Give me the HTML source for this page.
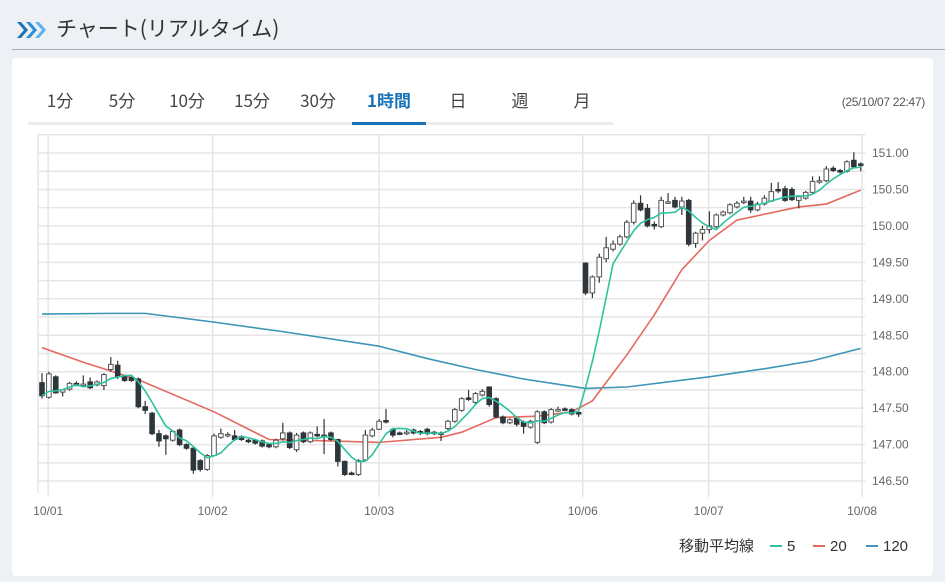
<!DOCTYPE html>
<html><head><meta charset="utf-8">
<style>
body{margin:0;width:945px;height:582px;background:#edf0f4;font-family:"Liberation Sans","Noto Sans CJK JP",sans-serif;overflow:hidden;position:relative}
.title{position:absolute;left:56px;top:13px;font-size:21px;color:#333;font-family:"Noto Sans CJK JP",sans-serif}
.hr{position:absolute;left:12px;top:49px;width:933px;height:1px;background:#a8adb2}
.card{position:absolute;left:12px;top:58px;width:921px;height:518px;background:#fff;border-radius:4px}
.tab{position:absolute;top:87px;font-size:17px;color:#444;transform:translateX(-50%);font-family:"Noto Sans CJK JP",sans-serif}
.tab.on{color:#1a73b8;font-weight:bold}
.ts{position:absolute;right:20px;top:95px;font-size:12px;color:#555;letter-spacing:-0.3px}
</style></head><body>
<svg style="position:absolute;left:15px;top:20px" width="32" height="20" viewBox="0 0 32 20">
<path d="M2 2l7 8-7 8h4l7-8-7-8z" fill="#1a73b8"/><path d="M11 2l7 8-7 8h4l7-8-7-8z" fill="#2b8fd6"/><path d="M20 2l7 8-7 8h4l7-8-7-8z" fill="#5ab4ee"/></svg>
<div class="title">チャート(リアルタイム)</div>
<div class="hr"></div>
<div class="card"></div>
<div class="tab" style="left:60px">1分</div>
<div class="tab" style="left:122px">5分</div>
<div class="tab" style="left:187px">10分</div>
<div class="tab" style="left:252px">15分</div>
<div class="tab" style="left:318px">30分</div>
<div class="tab on" style="left:389px">1時間</div>
<div class="tab" style="left:458px">日</div>
<div class="tab" style="left:520px">週</div>
<div class="tab" style="left:582px">月</div>
<div style="position:absolute;left:28px;top:122px;width:585px;height:3px;background:#ececec"></div>
<div style="position:absolute;left:352px;top:122px;width:74px;height:3px;background:#1a73b8"></div>
<div class="ts">(25/10/07 22:47)</div>
<svg id="chart" style="position:absolute;left:0;top:0" width="945" height="582"></svg>
<script>
const opens=[147.85,147.65,147.93,147.72,147.76,147.84,147.82,147.86,147.82,147.81,148.03,148.09,147.93,147.92,147.9,147.52,147.43,147.15,147.12,147.06,147.2,147.0,146.95,146.78,146.66,146.85,147.1,147.13,147.12,147.11,147.06,147.06,147.05,147.0,146.97,147.08,147.16,146.93,147.16,147.04,147.14,147.13,147.16,147.07,146.77,146.61,146.59,146.79,147.12,147.21,147.33,147.21,147.16,147.15,147.2,147.18,147.21,147.17,147.16,147.22,147.32,147.47,147.64,147.58,147.68,147.79,147.63,147.38,147.3,147.36,147.31,147.24,147.03,147.45,147.31,147.47,147.49,147.48,147.44,149.49,149.08,149.3,149.55,149.68,149.75,149.85,150.05,150.31,150.24,150.02,149.99,150.33,150.35,150.26,150.35,149.76,149.9,149.95,149.99,150.15,150.18,150.26,150.32,150.34,150.22,150.3,150.34,150.5,150.51,150.5,150.35,150.38,150.46,150.6,150.62,150.79,150.76,150.75,150.9,150.85];
const closes=[147.67,147.97,147.71,147.75,147.84,147.83,147.83,147.78,147.86,147.96,148.1,147.93,147.88,147.88,147.52,147.47,147.15,147.05,147.08,147.18,147.0,146.95,146.65,146.66,146.85,147.12,147.15,147.14,147.07,147.07,147.04,147.02,146.98,146.97,147.06,147.16,146.96,147.13,147.04,147.16,147.12,147.11,147.07,146.77,146.59,146.6,146.78,147.13,147.2,147.32,147.31,147.13,147.15,147.17,147.16,147.16,147.15,147.15,147.14,147.32,147.48,147.63,147.62,147.7,147.73,147.55,147.38,147.3,147.34,147.28,147.25,147.32,147.45,147.3,147.48,147.48,147.48,147.42,147.43,149.08,149.3,149.57,149.7,149.75,149.85,150.05,150.31,150.22,150.0,150.0,150.35,150.33,150.26,150.34,149.75,149.9,149.95,150.0,150.15,150.19,150.29,150.31,150.34,150.22,150.3,150.38,150.47,150.48,150.35,150.36,150.4,150.46,150.61,150.62,150.78,150.76,150.75,150.88,150.81,150.83];
const highs=[147.98,148.0,147.95,147.76,147.86,147.87,147.95,147.92,147.88,147.98,148.2,148.15,147.95,147.93,147.92,147.6,147.45,147.2,147.14,147.2,147.22,147.02,146.97,146.8,146.87,147.15,147.22,147.17,147.2,147.13,147.08,147.08,147.07,147.02,147.08,147.3,147.18,147.16,147.18,147.18,147.25,147.35,147.18,147.08,146.78,146.63,146.8,147.2,147.23,147.35,147.49,147.23,147.18,147.2,147.22,147.2,147.23,147.19,147.18,147.34,147.5,147.65,147.75,147.72,147.76,147.8,147.65,147.4,147.36,147.38,147.33,147.34,147.47,147.47,147.5,147.52,147.51,147.5,147.46,149.5,149.32,149.62,149.85,149.8,149.88,150.08,150.35,150.42,150.3,150.06,150.4,150.45,150.4,150.4,150.37,149.92,150.0,150.2,150.17,150.21,150.31,150.34,150.4,150.4,150.33,150.42,150.59,150.6,150.55,150.53,150.42,150.48,150.68,150.68,150.82,150.82,150.78,150.9,151.01,150.87];
const lows=[147.63,147.63,147.7,147.66,147.74,147.8,147.8,147.76,147.8,147.75,148.0,147.9,147.86,147.86,147.5,147.42,147.13,146.97,146.86,147.04,146.98,146.93,146.6,146.63,146.64,146.85,147.08,147.1,147.05,147.05,147.02,147.0,146.96,146.95,146.95,147.06,146.94,146.9,147.02,147.02,147.1,146.87,147.05,146.7,146.57,146.58,146.57,146.77,147.1,147.2,147.29,147.1,147.13,147.13,147.14,147.13,147.13,147.13,147.05,147.2,147.3,147.45,147.6,147.55,147.66,147.52,147.36,147.28,147.28,147.25,147.15,147.22,147.01,147.28,147.29,147.45,147.46,147.4,147.38,149.05,149.01,149.22,149.5,149.65,149.73,149.83,150.02,150.2,149.98,149.95,149.97,150.3,150.24,150.15,149.72,149.7,149.8,149.9,149.97,150.13,150.16,150.24,150.3,150.18,150.2,150.28,150.33,150.45,150.33,150.34,150.24,150.36,150.44,150.58,150.6,150.74,150.72,150.73,150.79,150.75];
const ma20Idx=[0,6,14,25,33,42,49,58,61,66,72,77,80,85,89,93,97,101,110,114,119];
const ma20Val=[148.33,148.13,147.89,147.45,147.07,147.05,147.03,147.1,147.17,147.37,147.39,147.45,147.6,148.23,148.78,149.4,149.8,150.08,150.26,150.3,150.49];
const ma120Idx=[0,10,15,20,25,35,49,56,63,70,79,85,97,105,112,119];
const ma120Val=[148.79,148.8,148.8,148.74,148.68,148.55,148.35,148.18,148.03,147.9,147.77,147.79,147.93,148.04,148.15,148.32];
const yTicks=[151.0,150.5,150.0,149.5,149.0,148.5,148.0,147.5,147.0,146.5];
const xTickIdx=[0.9,24.8,49,78.6,96.9,119.2];
const xTickLbl=["10/01","10/02","10/03","10/06","10/07","10/08"];

const svg=document.getElementById('chart');
const NS='http://www.w3.org/2000/svg';
const L=38,R=865,T=135,B=493;
const xs=i=>42+i*6.88;
const ys=p=>153+(151-p)*72.9;
function mk(t,a){const e=document.createElementNS(NS,t);for(const k in a)e.setAttribute(k,a[k]);svg.appendChild(e);return e;}
for(let p=146.5;p<=151.25;p+=0.25){const g=mk('line',{x1:L,x2:R,y1:ys(p),y2:ys(p),stroke:'#e6e6e6','stroke-width':1.5});

}
const lb=mk('line',{x1:L,x2:L,y1:T,y2:B,stroke:'#e6e6e6','stroke-width':1.5});


xTickIdx.forEach((v,k)=>{const g=mk('line',{x1:xs(v),x2:xs(v),y1:T,y2:B+4,stroke:'#e6e6e6','stroke-width':1.5});


const t=mk('text',{x:xs(v),y:515,'font-size':12,fill:'#666','text-anchor':'middle'});t.textContent=xTickLbl[k];

});
yTicks.forEach(p=>{const t=mk('text',{x:872,y:ys(p)+4,'font-size':12,fill:'#666'});t.textContent=p.toFixed(2);

});
function line(pts,color,name){const e=mk('polyline',{points:pts.map(q=>q.join(',')).join(' '),fill:'none',stroke:color,'stroke-width':1.6});

}
line(ma120Idx.map((i,k)=>[xs(i),ys(ma120Val[k])]),'#3d95b8','ma120-line');
line(ma20Idx.map((i,k)=>[xs(i),ys(ma20Val[k])]),'#e46a60','ma20-line');
closes.forEach((c,i)=>{const o=opens[i],x=xs(i),up=c>=o;
const w=mk('line',{x1:x,x2:x,y1:ys(highs[i]),y2:ys(lows[i]),stroke:'#333','stroke-width':1.2});


const top=ys(Math.max(o,c)),h=Math.max(1.5,Math.abs(ys(o)-ys(c)));
const b=mk('rect',{x:x-2.3,y:top,width:4.6,height:h,fill:up?'#fff':'#2e363b',stroke:up?'#555':'#2e363b','stroke-width':1});

});
const ma5=closes.map((c,i)=>{let s=0;for(let k=i-4;k<=i;k++)s+=closes[Math.max(0,k)];return s/5;});
line(ma5.map((v,i)=>[xs(i),ys(v)]),'#2ec3a0','ma5-line');
const lg=mk('text',{x:679,y:551,'font-size':15,fill:'#333'});lg.textContent='移動平均線';


[[770,'#2ec3a0','5','legend-ma5'],[813,'#e46a60','20','legend-ma20'],[866,'#3d95b8','120','legend-ma120']].forEach(a=>{
const s=mk('line',{x1:a[0],x2:a[0]+12,y1:546,y2:546,stroke:a[1],'stroke-width':2});


const t=mk('text',{x:a[0]+17,y:551,'font-size':15,fill:'#333'});t.textContent=a[2];

});
</script>
</body></html>
